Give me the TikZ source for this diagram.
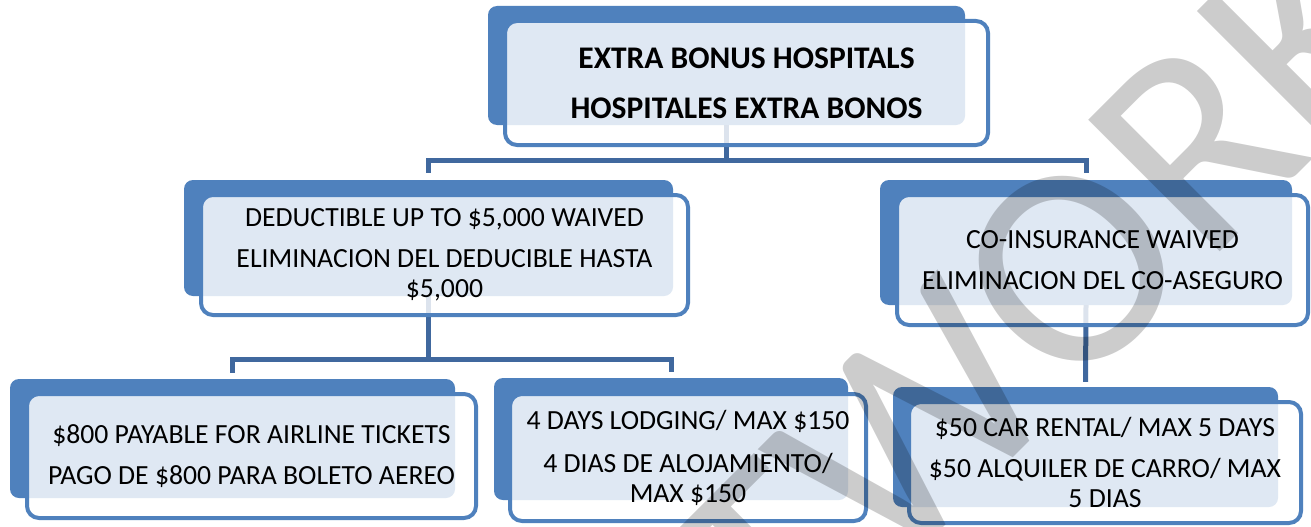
\documentclass[tikz,border=0pt]{standalone}
\usepackage{fontspec}
\setmainfont{Carlito}
\usetikzlibrary{calc,positioning}
\definecolor{smartblue}{RGB}{79,129,189}
\definecolor{smartline}{RGB}{64,104,158}

\begin{document}
\begin{tikzpicture}[x=1pt,y=1pt,
	back/.style={fill=smartblue, rounded corners=9pt, inner sep=0pt},
	front/.style={draw=smartblue, line width=4pt, fill=white, fill opacity=0.82, text opacity=1,
		rounded corners=12pt, align=center, inner sep=0pt, font=\fontsize{27.7}{30}\selectfont},
	head/.style={front, font=\fontsize{31.5}{50}\selectfont\bfseries},
	link/.style={draw=smartline, line width=5pt},
	wmark/.style={text=black, text opacity=0.2, inner sep=0pt, font=\fontsize{290}{290}\selectfont}]
			\useasboundingbox (0,0) rectangle (1311,-527);
			\fill[white] (0,0) rectangle (1311,-527);
			% shadow blocks
			\node[back, minimum width=477pt, minimum height=119pt] (topbk) at (726.5,-65.5) {};
			\node[back, minimum width=489pt, minimum height=116pt] (dedbk) at (428.5,-238) {};
			\node[back, minimum width=412pt, minimum height=125pt] (coinsbk) at (1086,-242.5) {};
			\node[back, minimum width=445pt, minimum height=119pt] (airbk) at (232.5,-438.5) {};
			\node[back, minimum width=354pt, minimum height=122pt] (lodgebk) at (671,-439) {};
			\node[back, minimum width=385pt, minimum height=120pt] (carbk) at (1085.5,-447) {};
			% connectors
			\draw[link] (topbk.south) -- ++(0,-35) -| ([yshift=7pt]dedbk.north);
			\draw[link] (topbk.south) -- ++(0,-35) -| ([yshift=7pt]coinsbk.north);
			\draw[link] (dedbk.south) -- ++(0,-63) -| ([yshift=6pt]airbk.north);
			\draw[link] (dedbk.south) -- ++(0,-63) -| ([yshift=6pt]lodgebk.north);
			\draw[link] (coinsbk.south) -- ([yshift=5pt]carbk.north);
			% text blocks
			\node[head, minimum width=483pt, minimum height=124pt] (top) at (746.5,-83)
				{EXTRA BONUS HOSPITALS\\HOSPITALES EXTRA BONOS};
			\node[front, minimum width=487pt, minimum height=120pt] (ded) at (444.5,-255)
				{DEDUCTIBLE UP TO \$5,000 WAIVED\\[11pt]ELIMINACION DEL DEDUCIBLE HASTA\\\$5,000};
			\node[front, minimum width=411pt, minimum height=130pt] (coins) at (1102.5,-260)
				{CO-INSURANCE WAIVED\\[11pt]ELIMINACION DEL CO-ASEGURO};
			\node[front, minimum width=449pt, minimum height=124pt] (air) at (251.5,-456)
				{\$800 PAYABLE FOR AIRLINE TICKETS\\[11pt]PAGO DE \$800 PARA BOLETO AEREO};
			\node[front, minimum width=356pt, minimum height=127pt] (lodge) at (688,-457.5)
				{4 DAYS LODGING/ MAX \$150\\[13pt]4 DIAS DE ALOJAMIENTO/\\MAX \$150};
			\node[front, minimum width=392pt, minimum height=121pt] (car) at (1105,-462.5)
				{\$50 CAR RENTAL/ MAX 5 DAYS\\[11pt]\$50 ALQUILER DE CARRO/ MAX\\5 DIAS};
			% watermark
			\begin{scope}
				\clip (0,0) rectangle (1311,-527);
				\node[wmark, rotate=45] (stamp) at (1040,-300) {TWORK};
			\end{scope}
		\end{tikzpicture}
\end{document}
